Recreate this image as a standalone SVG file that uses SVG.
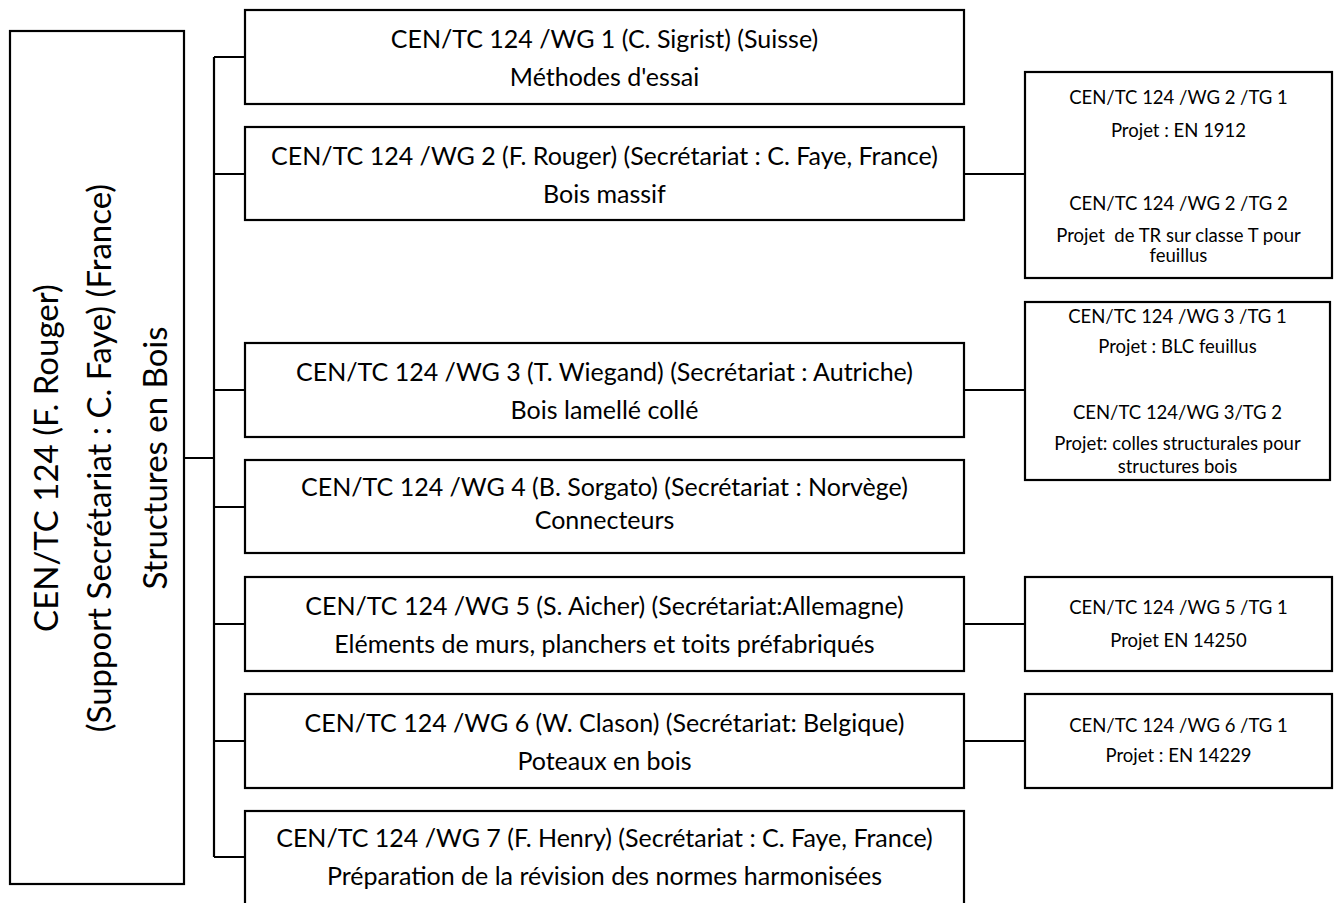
<svg xmlns="http://www.w3.org/2000/svg" width="1340" height="903" viewBox="0 0 1340 903">
<style>
.box{fill:#fff;stroke:#000;stroke-width:2.2}
.ln{stroke:#000;stroke-width:2.2;fill:none}
text{font-family:Lato,"Open Sans","Liberation Sans",sans-serif;fill:#000;text-anchor:middle}
.wg{font-size:25px}
.tg{font-size:18.5px}
.big{font-size:33px}
</style>
<rect width="1340" height="903" fill="#fff"/>
<g id="connectors">
<path class="ln" d="M184 458H214M214 57V857M214 57H245M214 174H245M214 390H245M214 507H245M214 624H245M214 741H245M214 857H245"/>
<path class="ln" d="M964 174H1025M964 390H1025M964 624H1025M964 741H1025"/>
</g>
<g id="tc124">
<rect class="box" x="10" y="31" width="174" height="853"/>
<text class="big" transform="translate(58,458) rotate(-90)">CEN/TC 124 (F. Rouger)</text>
<text class="big" transform="translate(111,458) rotate(-90)">(Support Secrétariat : C. Faye) (France)</text>
<text class="big" transform="translate(167,458) rotate(-90)">Structures en Bois</text>
</g>
<g id="wg1">
<rect class="box" x="245" y="10" width="719" height="94"/>
<text class="wg" x="604.5" y="48">CEN/TC 124 /WG 1 (C. Sigrist) (Suisse)</text>
<text class="wg" x="604.5" y="86">Méthodes d'essai</text>
</g>
<g id="wg2">
<rect class="box" x="245" y="127" width="719" height="93"/>
<text class="wg" x="604.5" y="165">CEN/TC 124 /WG 2 (F. Rouger) (Secrétariat : C. Faye, France)</text>
<text class="wg" x="604.5" y="203">Bois massif</text>
</g>
<g id="wg3">
<rect class="box" x="245" y="343" width="719" height="94"/>
<text class="wg" x="604.5" y="381">CEN/TC 124 /WG 3 (T. Wiegand) (Secrétariat : Autriche)</text>
<text class="wg" x="604.5" y="419">Bois lamellé collé</text>
</g>
<g id="wg4">
<rect class="box" x="245" y="460" width="719" height="93"/>
<text class="wg" x="604.5" y="496">CEN/TC 124 /WG 4 (B. Sorgato) (Secrétariat : Norvège)</text>
<text class="wg" x="604.5" y="529">Connecteurs</text>
</g>
<g id="wg5">
<rect class="box" x="245" y="577" width="719" height="94"/>
<text class="wg" x="604.5" y="615">CEN/TC 124 /WG 5 (S. Aicher) (Secrétariat:Allemagne)</text>
<text class="wg" x="604.5" y="653">Eléments de murs, planchers et toits préfabriqués</text>
</g>
<g id="wg6">
<rect class="box" x="245" y="694" width="719" height="94"/>
<text class="wg" x="604.5" y="732">CEN/TC 124 /WG 6 (W. Clason) (Secrétariat: Belgique)</text>
<text class="wg" x="604.5" y="770">Poteaux en bois</text>
</g>
<g id="wg7">
<rect class="box" x="245" y="811" width="719" height="110"/>
<text class="wg" x="604.5" y="847">CEN/TC 124 /WG 7 (F. Henry) (Secrétariat : C. Faye, France)</text>
<text class="wg" x="604.5" y="885">Préparation de la révision des normes harmonisées</text>
</g>
<g id="wg2-tg">
<rect class="box" x="1025" y="72" width="307" height="206"/>
<text class="tg" x="1178.5" y="103.5">CEN/TC 124 /WG 2 /TG 1</text>
<text class="tg" x="1178.5" y="136.5">Projet : EN 1912</text>
<text class="tg" x="1178.5" y="209.5">CEN/TC 124 /WG 2 /TG 2</text>
<text class="tg" x="1178.5" y="241.5" xml:space="preserve">Projet  de TR sur classe T pour</text>
<text class="tg" x="1178.5" y="261.5">feuillus</text>
</g>
<g id="wg3-tg">
<rect class="box" x="1025" y="302" width="305" height="178"/>
<text class="tg" x="1177.5" y="322.5">CEN/TC 124 /WG 3 /TG 1</text>
<text class="tg" x="1177.5" y="352.5">Projet : BLC feuillus</text>
<text class="tg" x="1177.5" y="418.5">CEN/TC 124/WG 3/TG 2</text>
<text class="tg" x="1177.5" y="449.5">Projet: colles structurales pour</text>
<text class="tg" x="1177.5" y="472.5">structures bois</text>
</g>
<g id="wg5-tg">
<rect class="box" x="1025" y="577" width="307" height="94"/>
<text class="tg" x="1178.5" y="613.5">CEN/TC 124 /WG 5 /TG 1</text>
<text class="tg" x="1178.5" y="646.5">Projet EN 14250</text>
</g>
<g id="wg6-tg">
<rect class="box" x="1025" y="694" width="307" height="94"/>
<text class="tg" x="1178.5" y="731.5">CEN/TC 124 /WG 6 /TG 1</text>
<text class="tg" x="1178.5" y="761.5">Projet : EN 14229</text>
</g>
</svg>
